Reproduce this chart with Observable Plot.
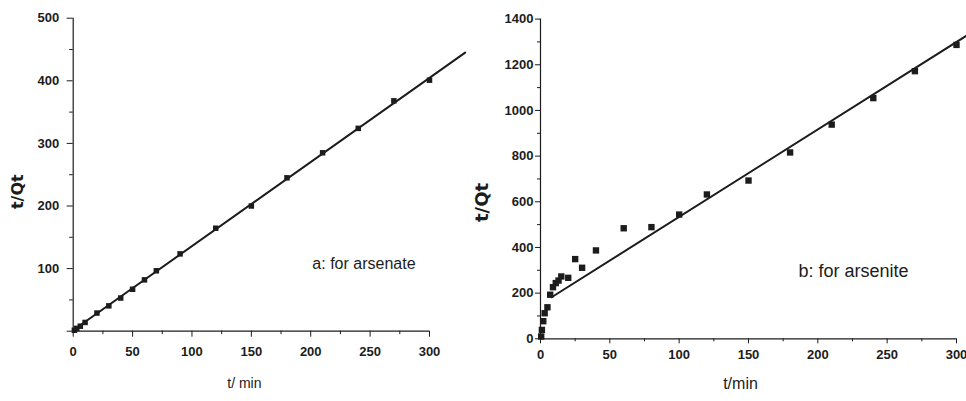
<!DOCTYPE html>
<html>
<head>
<meta charset="utf-8">
<script src="https://cdn.jsdelivr.net/npm/d3@7"></script>
<script src="https://cdn.jsdelivr.net/npm/@observablehq/plot@0.6"></script>
<style>
  html, body { margin: 0; padding: 0; background: #fff; overflow: hidden; }
  #wrap { position: relative; width: 966px; height: 401px; overflow: hidden; }
  #left, #right { position: absolute; top: 0; }
  #left { left: 0; }
  #right { left: 480px; }
  svg { font-family: "Liberation Sans", Arial, sans-serif; overflow: visible !important; }
</style>
</head>
<body>
<div id="wrap"><div id="left"></div><div id="right"></div></div>
<script>
// ---- Panel a: arsenate ----
const tA = [1, 3, 6, 10, 20, 30, 40, 50, 60, 70, 90, 120, 150, 180, 210, 240, 270, 300];
const qA = [1.5, 4.5, 8, 14, 29, 40.5, 53, 67, 82, 96.5, 123.5, 164.5, 200, 245, 285, 324, 368, 401];
const fitAt = [0, 330];
const fitAv = [1.5, 445];
const xTicksA = [0, 50, 100, 150, 200, 250, 300];
const xMinorA = [25, 75, 125, 175, 225, 275];
const yTicksA = [0, 100, 200, 300, 400, 500];
const yMinorA = [50, 150, 250, 350, 450];
const noteA = "a: for arsenate";

// ---- Panel b: arsenite ----
const tB = [0.5, 1, 2, 3, 5, 7, 9, 11, 13, 15, 20, 25, 30, 40, 60, 80, 100, 120, 150, 180, 210, 240, 270, 300];
const qB = [10, 39, 77, 112, 138, 193, 226, 244, 255, 273, 267, 349, 311, 387, 484, 489, 544, 632, 693, 816, 938, 1054, 1172, 1287];
const fitBt = [8, 315];
const fitBv = [182, 1357];
const xTicksB = [0, 50, 100, 150, 200, 250, 300];
const xMinorB = [25, 75, 125, 175, 225, 275];
const yTicksB = [0, 200, 400, 600, 800, 1000, 1200, 1400];
const yMinorB = [100, 300, 500, 700, 900, 1100, 1300];
const noteB = "b: for arsenite";

const ink = "#1c1c1c";

const dataA = tA.map((t, i) => ({t, q: qA[i]}));
const fitA = fitAt.map((t, i) => ({t, q: fitAv[i]}));
const dataB = tB.map((t, i) => ({t, q: qB[i]}));
const fitB = fitBt.map((t, i) => ({t, q: fitBv[i]}));

const left = Plot.plot({
  width: 480, height: 401,
  marginLeft: 72.7, marginRight: 51, marginTop: 17.7, marginBottom: 70.3,
  x: {domain: [0, 300]},
  y: {domain: [0, 500]},
  style: {color: ink, background: "transparent", overflow: "visible"},
  marks: [
    Plot.ruleY([0], {stroke: ink, strokeWidth: 1.2}),
    Plot.ruleX([0], {stroke: ink, strokeWidth: 1.2}),
    Plot.axisX(xTicksA, {tickSize: 6, tickPadding: 10, label: null, fontSize: 13, fontWeight: "bold", stroke: ink,
      tickFormat: d => String(d)}),
    Plot.axisX(xMinorA, {tickSize: 3.5, text: null, label: null, stroke: ink}),
    Plot.axisY(yTicksA, {tickSize: 6, tickPadding: 8, label: null, fontSize: 13, fontWeight: "bold", stroke: ink,
      tickFormat: d => d === 0 ? "" : String(d)}),
    Plot.axisY(yMinorA, {tickSize: 3.5, text: null, label: null, stroke: ink}),
    Plot.line(fitA, {x: "t", y: "q", stroke: ink, strokeWidth: 2}),
    Plot.dot(dataA, {x: "t", y: "q", symbol: "square", r: 3.1, fill: ink, stroke: "none"}),
    Plot.text([noteA], {x: 244.8, y: 107.7, text: d => d, fontSize: 16, fill: ink, textAnchor: "middle"}),
    Plot.text(["t/ min"], {frameAnchor: "bottom", dx: -7, dy: 57, text: d => d, fontSize: 14, fill: ink}),
    Plot.text(["t/Qt"], {frameAnchor: "left", dx: -55, dy: 17, rotate: -90, textAnchor: "middle", text: d => d,
      fontSize: 16, fontWeight: "bold", fontFamily: "DejaVu Sans", fill: ink})
  ]
});
document.getElementById("left").appendChild(left);

const right = Plot.plot({
  width: 486, height: 401,
  marginLeft: 60, marginRight: 10, marginTop: 18.6, marginBottom: 62.7,
  x: {domain: [0, 300]},
  y: {domain: [0, 1400]},
  style: {color: ink, background: "transparent", overflow: "visible"},
  marks: [
    Plot.ruleY([0], {stroke: ink, strokeWidth: 1.2}),
    Plot.ruleX([0], {stroke: ink, strokeWidth: 1.2}),
    Plot.axisX(xTicksB, {tickSize: 5, tickPadding: 6, label: null, fontSize: 13, fontWeight: "bold", stroke: ink,
      tickFormat: d => String(d)}),
    Plot.axisX(xMinorB, {tickSize: 3, text: null, label: null, stroke: ink}),
    Plot.axisY(yTicksB, {tickSize: 5, tickPadding: 2, label: null, fontSize: 13, fontWeight: "bold", stroke: ink,
      tickFormat: d => String(d)}),
    Plot.axisY(yMinorB, {tickSize: 3, text: null, label: null, stroke: ink}),
    Plot.line(fitB, {x: "t", y: "q", stroke: ink, strokeWidth: 2}),
    Plot.dot(dataB, {x: "t", y: "q", symbol: "square", r: 3.6, fill: ink, stroke: "none"}),
    Plot.text([noteB], {x: 225.7, y: 296, text: d => d, fontSize: 18, fill: ink, textAnchor: "middle"}),
    Plot.text(["t/min"], {frameAnchor: "bottom", dx: -8, dy: 50, text: d => d, fontSize: 16, fill: ink}),
    Plot.text(["t/Qt"], {frameAnchor: "left", dx: -58, dy: 23.5, rotate: -90, textAnchor: "middle", text: d => d,
      fontSize: 18, fontWeight: "bold", fontFamily: "DejaVu Sans", fill: ink})
  ]
});
document.getElementById("right").appendChild(right);
</script>
</body>
</html>
